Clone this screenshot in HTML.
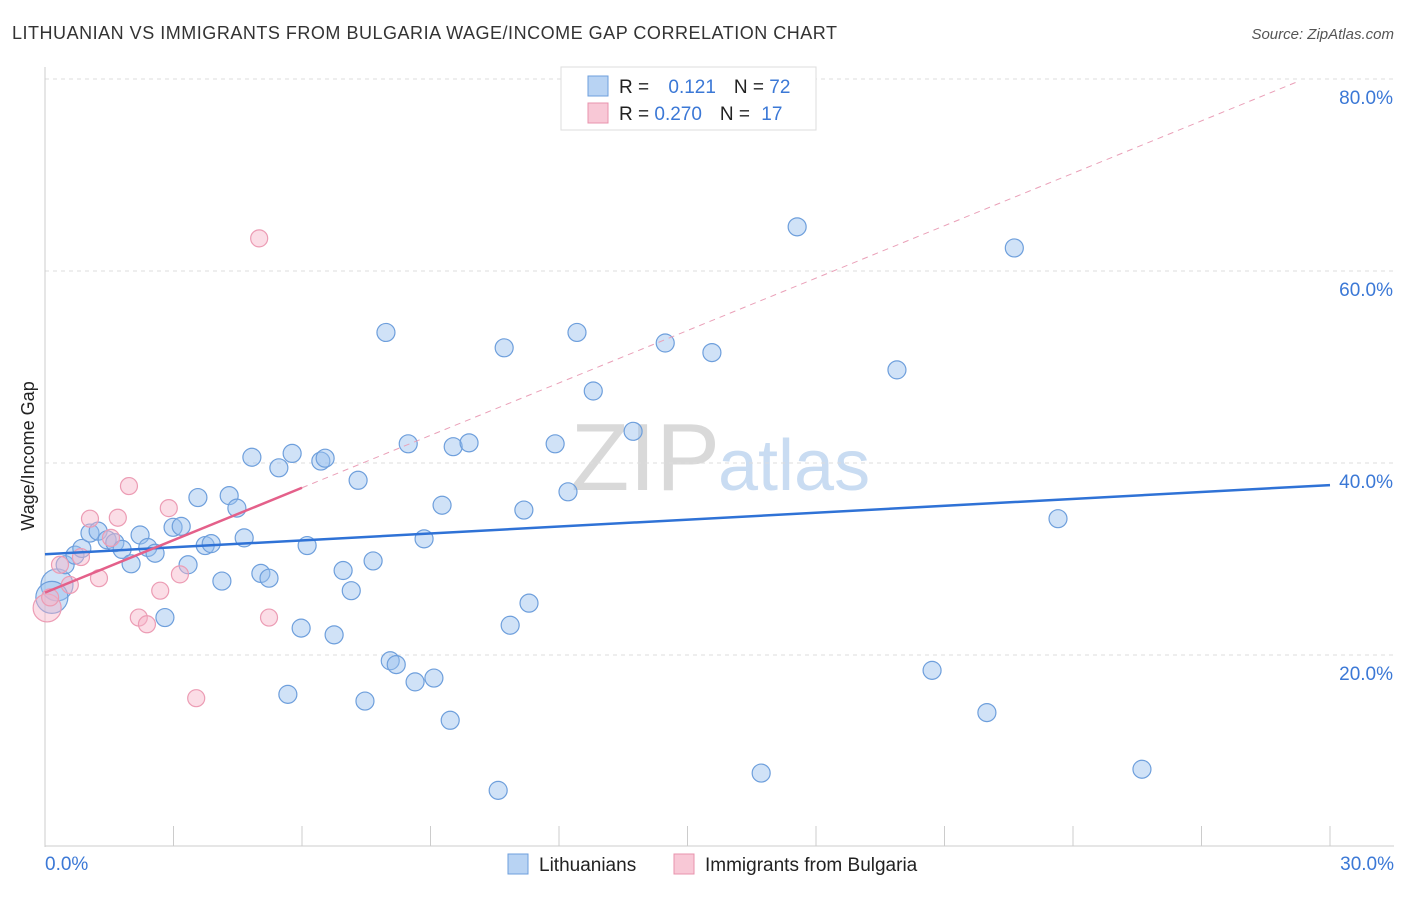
<!DOCTYPE html>
<html><head><meta charset="utf-8">
<style>
body{margin:0;background:#fff;font-family:"Liberation Sans",sans-serif;}
svg text{font-family:"Liberation Sans",sans-serif;}
</style></head>
<body>
<svg id="chart" width="1406" height="892">
<text x="12" y="39" font-size="18" fill="#333" textLength="825" lengthAdjust="spacing">LITHUANIAN VS IMMIGRANTS FROM BULGARIA WAGE/INCOME GAP CORRELATION CHART</text>
<text x="1394" y="39" font-size="15" fill="#555" font-style="italic" text-anchor="end">Source: ZipAtlas.com</text>
<text x="720" y="490" font-size="96" fill="#d9d9d9" text-anchor="end" font-family="Liberation Serif">ZIP</text>
<text x="718" y="490" font-size="72" fill="#c9dcf2">atlas</text>
<g id="grid"></g>
<g id="axes"></g>
<g id="marks"></g>
<text transform="translate(34,456) rotate(-90)" font-size="18" fill="#222" text-anchor="middle">Wage/Income Gap</text>
<g>
<rect x="561" y="67" width="255" height="63" fill="#fff" stroke="#ddd"/>
<rect x="588" y="76" width="20" height="20" fill="#b8d3f3" stroke="#6e9fdc"/>
<rect x="588" y="103" width="20" height="20" fill="#f8c8d6" stroke="#e893ad"/>
<text x="619" y="93" font-size="19" fill="#222">R = <tspan fill="#3b78d6" dx="14">0.121</tspan><tspan dx="18" fill="#222">N = </tspan><tspan fill="#3b78d6">72</tspan></text>
<text x="619" y="120" font-size="19" fill="#222">R = <tspan fill="#3b78d6">0.270</tspan><tspan dx="18" fill="#222">N = </tspan><tspan fill="#3b78d6" dx="6">17</tspan></text>
</g>
<g>
<rect x="508" y="854" width="20" height="20" fill="#b8d3f3" stroke="#6e9fdc"/>
<text x="539" y="871" font-size="19" fill="#222">Lithuanians</text>
<rect x="674" y="854" width="20" height="20" fill="#f8c8d6" stroke="#e893ad"/>
<text x="705" y="871" font-size="19" fill="#222">Immigrants from Bulgaria</text>
</g>
</svg>
<script>
const xTicks=[0,3,6,9,12,15,18,21,24,27,30];
const yTicks=[20,40,60,80];
const yTickLabels=["20.0%","40.0%","60.0%","80.0%"];
const xEndLabels=["0.0%","30.0%"];
const blueX=[0.28,0.16,0.47,0.70,0.86,1.05,1.24,1.45,1.63,1.80,2.01,2.22,2.40,2.57,2.80,2.99,3.18,3.34,3.57,3.74,3.88,4.13,4.30,4.48,4.65,4.83,5.04,5.23,5.46,5.67,5.77,5.98,6.12,6.44,6.54,6.75,6.96,7.15,7.31,7.47,7.66,7.96,8.06,8.20,8.48,8.64,8.85,9.08,9.27,9.46,9.53,9.90,10.58,10.72,10.86,11.18,11.30,11.91,12.21,12.42,12.80,13.73,14.48,15.57,16.72,17.56,19.89,20.71,21.99,22.63,23.65,25.61];
const blueY=[27.3,26.0,29.4,30.4,31.1,32.7,32.9,32.0,31.7,31.0,29.5,32.5,31.2,30.6,23.9,33.3,33.4,29.4,36.4,31.4,31.6,27.7,36.6,35.3,32.2,40.6,28.5,28.0,39.5,15.9,41.0,22.8,31.4,40.2,40.5,22.1,28.8,26.7,38.2,15.2,29.8,53.6,19.4,19.0,42.0,17.2,32.1,17.6,35.6,13.2,41.7,42.1,5.9,52.0,23.1,35.1,25.4,42.0,37.0,53.6,47.5,43.3,52.5,51.5,7.7,64.6,49.7,18.4,14.0,62.4,34.2,8.1];
const pinkX=[0.05,0.12,0.35,0.58,0.84,1.05,1.26,1.54,1.70,1.96,2.19,2.38,2.69,2.89,3.15,3.53,5.00,5.23];
const pinkY=[24.9,26.0,29.4,27.3,30.2,34.2,28.0,32.2,34.3,37.6,23.9,23.2,26.7,35.3,28.4,15.5,63.4,23.9];
const blueTrend=[30.5,37.7]; // y at x=0 and x=30
const pinkTrend=[26.5,1.82]; // intercept, slope
const pinkSolidEnd=6;

const X=v=>45+v*1285/30, Y=v=>847-v*9.6;
const NS="http://www.w3.org/2000/svg";
function mk(p,tag,at){const e=document.createElementNS(NS,tag);for(const k in at)e.setAttribute(k,at[k]);p.appendChild(e);return e;}
const grid=document.getElementById('grid'),axes=document.getElementById('axes'),marks=document.getElementById('marks');
yTicks.forEach((t,i)=>{
 const l=mk(grid,'line',{x1:45,x2:1394,y1:Y(t),y2:Y(t),stroke:'#ddd','stroke-dasharray':'4,4'});
 
 
 const tx=mk(axes,'text',{x:1393,y:Y(t)+25,'font-size':19,fill:'#3b78d6','text-anchor':'end'});
 tx.textContent=yTickLabels[i];
 
 
});
const ax=mk(axes,'line',{x1:45,x2:45,y1:67,y2:847,stroke:'#ccc'});


const bx=mk(axes,'line',{x1:45,x2:1394,y1:846,y2:846,stroke:'#ccc'});


xTicks.forEach(t=>{
 const l=mk(axes,'line',{x1:X(t),x2:X(t),y1:826,y2:846,stroke:'#ccc'});
 
 
});
[[0,'start',45],[30,'end',1394]].forEach((d,i)=>{
 const tx=mk(axes,'text',{x:d[2],y:870,'font-size':19,fill:'#3b78d6','text-anchor':d[1]});
 tx.textContent=xEndLabels[i];
 
 
});
blueX.forEach((x,i)=>{
 const r=(x<0.3)?16:9;
 const c=mk(marks,'circle',{cx:X(x),cy:Y(blueY[i]),r:r,fill:'rgba(150,190,238,0.45)',stroke:'#6e9fdc','stroke-width':1.2});
 
 
});
pinkX.forEach((x,i)=>{
 const r=(x<0.1)?14:8.5;
 const c=mk(marks,'circle',{cx:X(x),cy:Y(pinkY[i]),r:r,fill:'rgba(246,180,200,0.45)',stroke:'#ec9cb4','stroke-width':1.2});
 
 
});
const bl=mk(marks,'line',{x1:X(0),y1:Y(blueTrend[0]),x2:X(30),y2:Y(blueTrend[1]),stroke:'#2f72d6','stroke-width':2.5});


const pe=29.2;
const pd=mk(marks,'line',{x1:X(pinkSolidEnd),y1:Y(pinkTrend[0]+pinkTrend[1]*pinkSolidEnd),x2:X(pe),y2:Y(pinkTrend[0]+pinkTrend[1]*pe),stroke:'#eaa0b8','stroke-width':1,'stroke-dasharray':'6,5'});


const ps=mk(marks,'line',{x1:X(0),y1:Y(pinkTrend[0]),x2:X(pinkSolidEnd),y2:Y(pinkTrend[0]+pinkTrend[1]*pinkSolidEnd),stroke:'#e4608a','stroke-width':2.5});


</script>
</body></html>
